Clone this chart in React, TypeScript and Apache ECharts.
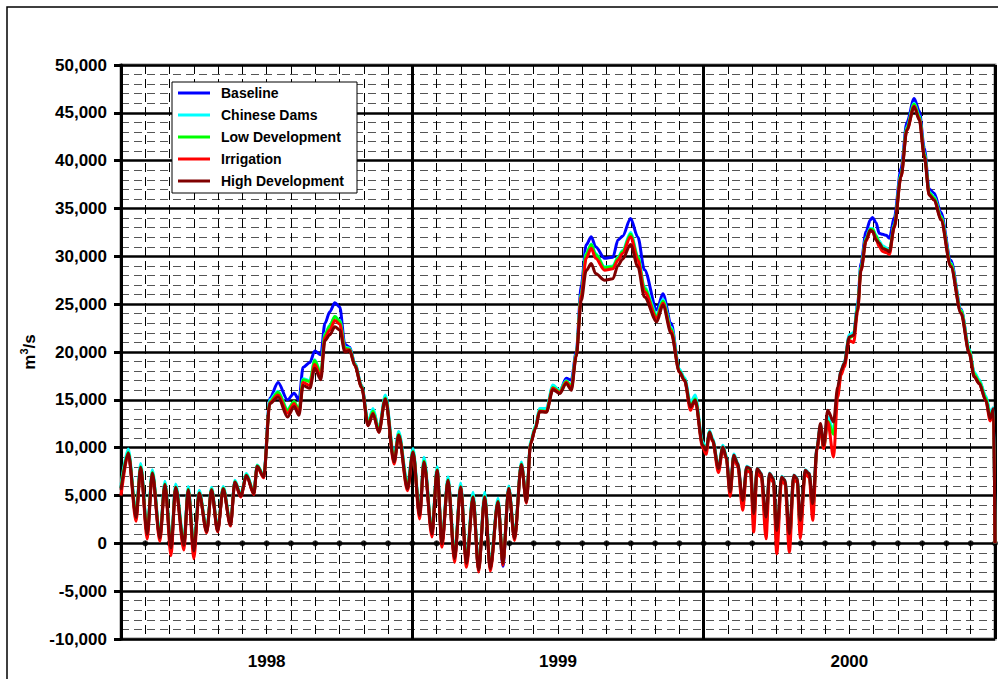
import React, { useEffect, useRef } from "react";
import * as echarts from "echarts";

// x position in months since 1 Jan 1998
const months = [
  0, 0.3, 0.62, 0.81, 1.08, 1.29, 1.6, 1.81, 2.06, 2.25, 2.59, 2.77, 3.0, 3.22, 3.53, 3.73, 3.98, 4.21, 4.51, 4.69, 4.93, 5.17, 5.47, 5.61, 5.88,
  6.13, 6.47, 6.86, 7.13, 7.33, 7.5, 7.78, 7.98, 8.23, 8.4, 8.6, 8.81, 9.01, 9.22, 9.42, 9.63, 9.91, 10.18, 10.38, 10.62, 10.89, 11.25, 11.44, 11.8,
  12.03, 12.3, 12.48, 12.81, 13.02, 13.22, 13.47, 13.74, 13.99, 14.23, 14.5, 14.73, 14.98, 15.21, 15.53, 15.73, 15.97, 16.21, 16.49, 16.7, 16.87, 17.07, 17.24, 17.52, 17.79, 18.07, 18.34, 18.55, 18.75, 18.96, 19.16, 19.37, 19.55, 19.92, 20.26, 20.47, 20.66, 20.99, 21.29, 21.56, 22.07, 22.32, 22.66, 23.0, 23.21, 23.46, 23.65, 23.96,
  24.1, 24.24, 24.37, 24.61, 24.79, 24.93, 25.09, 25.24, 25.4, 25.61, 25.77, 25.93, 26.06, 26.2, 26.37, 26.57, 26.71, 26.87, 27.01, 27.21, 27.35, 27.53, 27.71, 27.85, 27.98, 28.18, 28.35, 28.49, 28.67, 28.81, 28.94, 29.11, 29.35, 29.52, 29.66, 29.79, 30.0, 30.18, 30.34, 30.48, 30.69, 30.86, 30.96, 31.1, 31.23, 31.37, 31.52, 31.65, 31.85, 32.13, 32.37, 32.67, 32.88, 33.09, 33.29, 33.5, 33.77, 34.18, 34.6, 34.94, 35.14, 35.35, 35.62, 35.8, 35.94, 36.0,
];

const baseline = [
  5800, 9500, 2900, 8000, 1100, 7400, 700, 6200, -400, 5900, -100, 5650, -700, 5300, 1300, 5650, 1400, 5750, 2000, 6450, 5000, 7150, 5250, 8100, 7000,
  15200, 16800, 15000, 15700, 15000, 18400, 18900, 20100, 19700, 23000, 24200, 25150, 24700, 20800, 20500, 18800, 16500, 12600, 13900, 11900, 15300, 8800, 11500, 6000,
  9600, 3000, 8600, 1100, 7700, 50, 6650, -1500, 5950, -2000, 4900, -2750, 4900, -2600, 4400, -2400, 5750, 550, 8300, 4400, 10500, 12100, 13900, 13900, 16400, 15900, 17250, 17050, 20000, 27000, 31200, 32050, 31000, 29800, 29900, 31700, 32100, 33950, 32000, 28600, 24400, 26100, 23000, 18100, 17200, 14400, 15200, 10400,
  9700, 11650, 10800, 7800, 10100, 9050, 5300, 9200, 8300, 4000, 7900, 7700, 2400, 7700, 7200, 1800, 7200, 6700, 300, 6850, 6500, 200, 7000, 6700, 1600, 7550, 7200, 3400, 10000, 12300, 10100, 13000, 11600, 15800, 18000, 18800, 21700, 21900, 25000, 29300, 32600, 33800, 34070, 33500, 32400, 32300, 32200, 31900, 34000, 39200, 44000, 46500, 45200, 41300, 37000, 36600, 34600, 29600, 24500, 20200, 17800, 17000, 15300, 13500, 14000, 0,
];

const chineseDams = [
  6100, 9850, 3200, 8350, 1400, 7700, 1000, 6500, -100, 6200, 200, 5950, -400, 5550, 1500, 5850, 1600, 5950, 2200, 6600, 5150, 7300, 5400, 8200, 7100,
  15000, 15900, 14000, 14800, 13900, 17200, 17000, 19200, 17800, 21900, 22800, 23700, 23300, 20500, 20400, 18800, 16500, 12700, 14100, 12000, 15500, 9000, 11700, 6200,
  9900, 3300, 9000, 1400, 8000, 350, 6950, -1200, 6300, -1700, 5350, -2450, 5350, -2300, 4700, -2000, 6000, 800, 8500, 4600, 10700, 12300, 14100, 14100, 16550, 16000, 17000, 16500, 19800, 26200, 30300, 31300, 30300, 28900, 29000, 29900, 30600, 32500, 30000, 26800, 23900, 25500, 22600, 18200, 17300, 14700, 15500, 10600,
  9900, 11800, 10950, 8000, 10250, 9200, 5500, 9350, 8450, 4200, 8050, 7850, 2600, 7850, 7350, 2000, 7350, 6850, 500, 7000, 6650, 400, 7150, 6850, 1800, 7700, 7350, 3600, 10150, 12400, 10250, 13200, 11800, 15900, 18100, 18900, 21800, 22000, 24800, 28900, 31900, 32900, 32900, 32200, 31600, 31100, 30900, 30600, 33300, 38600, 43500, 46000, 44700, 40800, 36700, 36200, 34200, 29300, 24400, 20300, 17900, 17100, 15400, 13700, 14200, 0,
];

const lowDevelopment = [
  5800, 9500, 2900, 8000, 1100, 7400, 700, 6200, -400, 5900, -100, 5650, -700, 5300, 1300, 5650, 1400, 5750, 2000, 6450, 5000, 7150, 5250, 8100, 7000,
  14800, 15800, 13900, 14800, 13900, 17100, 16900, 19100, 17700, 21800, 22700, 23700, 23200, 20400, 20300, 18700, 16400, 12500, 13800, 11800, 15200, 8700, 11400, 5900,
  9600, 3000, 8600, 1100, 7700, 50, 6650, -1500, 5950, -2000, 4900, -2750, 4900, -2600, 4400, -2100, 5750, 550, 8300, 4400, 10500, 12100, 13850, 13800, 16300, 15850, 16950, 16400, 19700, 26100, 30200, 31200, 30200, 28800, 28900, 29800, 30500, 32300, 29900, 26600, 23700, 25300, 22400, 18000, 17100, 14300, 15100, 10300,
  9650, 11600, 10750, 7750, 10050, 9000, 5200, 9150, 8250, 3900, 7850, 7650, 2300, 7650, 7150, 1700, 7150, 6650, 200, 6800, 6450, 100, 6950, 6650, 1500, 7500, 7150, 3300, 9950, 12200, 10000, 12800, 11400, 15600, 17900, 18700, 21500, 21700, 24600, 28800, 31800, 32800, 32800, 32100, 31400, 30900, 30700, 30500, 33200, 38500, 43400, 45900, 44600, 40700, 36600, 36100, 34100, 29200, 24300, 20100, 17700, 16900, 15200, 13300, 13900, 0,
];

const irrigation = [
  5000, 9300, 2300, 7800, 450, 7200, 200, 6050, -1300, 5750, -700, 5500, -1600, 5200, 1100, 5550, 1200, 5650, 1800, 6350, 4850, 7050, 5100, 8000, 6850,
  14700, 15500, 13600, 14600, 13600, 16800, 16500, 18700, 17400, 21500, 22300, 23300, 22900, 20200, 20200, 18600, 16300, 12300, 13600, 11600, 15100, 8300, 11300, 5500,
  9450, 2550, 8450, 650, 7600, -400, 6550, -2000, 5850, -2500, 4800, -3000, 4800, -2900, 4300, -2300, 5700, 300, 8200, 4200, 10400, 12000, 13800, 13750, 16200, 15750, 16850, 16200, 19600, 25900, 29800, 30850, 29800, 28550, 28700, 29600, 30300, 32050, 29600, 26300, 23500, 25100, 22200, 17900, 17000, 13900, 14950, 10000,
  9300, 11500, 10650, 7400, 9900, 8850, 4900, 8950, 8050, 3450, 7600, 7400, 1180, 7400, 6900, 490, 6900, 6400, -1080, 6550, 6200, -910, 6700, 6400, 490, 7250, 6900, 2400, 9800, 12100, 9900, 12700, 9030, 15300, 17600, 18400, 21200, 21000, 24200, 28500, 31600, 32600, 32600, 31800, 31000, 30500, 30400, 30200, 33000, 38300, 43200, 45700, 44400, 40500, 36400, 35900, 33900, 29000, 24100, 19900, 17500, 16700, 14900, 12800, 13700, 0,
];

const highDevelopment = [
  5600, 9450, 2700, 7950, 950, 7350, 550, 6150, -500, 5850, -200, 5600, -800, 5250, 1200, 5600, 1300, 5700, 1900, 6400, 4950, 7100, 5200, 8050, 6950,
  14600, 15300, 13200, 14300, 13400, 16500, 16200, 18300, 17100, 21200, 21800, 22650, 22300, 20000, 20150, 18600, 16300, 12300, 13550, 11600, 15100, 8500, 11300, 5700,
  9550, 2900, 8500, 1000, 7650, -50, 6600, -1600, 5900, -2100, 4850, -2800, 4850, -2650, 4350, -2100, 5720, 500, 8250, 4300, 10400, 12000, 13750, 13700, 16050, 15650, 16700, 16000, 19500, 25400, 28500, 29250, 28200, 27500, 27650, 29050, 29700, 31250, 28900, 25750, 23150, 24900, 21950, 17900, 17050, 14250, 14950, 10250,
  9730, 11640, 10770, 7810, 10070, 9030, 5400, 9200, 8340, 4490, 7980, 7810, 3100, 7810, 7290, 2750, 7290, 6770, 1350, 6940, 6590, 1000, 7110, 6770, 2400, 7640, 7290, 4140, 10070, 12520, 10250, 13910, 12690, 16350, 18090, 18790, 21580, 21760, 24370, 28560, 31690, 32740, 32600, 31690, 31400, 30820, 30700, 30470, 33090, 38320, 43200, 45640, 44250, 40410, 36400, 35880, 33790, 28900, 24030, 19840, 17400, 16700, 14960, 13040, 14090, 0,
];

const seriesNames = ["Baseline", "Chinese Dams", "Low Development", "Irrigation", "High Development"];
const seriesColors = ["#0000FF", "#00FFFF", "#00FF00", "#FF0000", "#800000"];
const yearLabels = ["1998", "1999", "2000"];
const monthTickPositions = [
  1, 2, 3, 4, 5, 6, 7, 8, 9, 10, 11, 12, 13, 14, 15, 16, 17, 18, 19, 20, 21, 22, 23, 24, 25, 26, 27, 28, 29, 30, 31, 32, 33, 34, 35, 36,
];

export default function App() {
  const ref = useRef<HTMLDivElement>(null);

  useEffect(() => {
    document.body.style.margin = "0";
    const chart = echarts.init(ref.current as HTMLDivElement, null, { renderer: "svg" });
    const font = "Arial, 'Liberation Sans', sans-serif";
    const allData = [baseline, chineseDams, lowDevelopment, irrigation, highDevelopment];

    const lines = seriesNames.map((name, k) => ({
      type: "line",
      name,
      data: months.map((m, i) => [m, allData[k][i]]),
      symbol: "none",
      showSymbol: false,
      smooth: 0.3,
      smoothMonotone: "x",
      lineStyle: { color: seriesColors[k], width: 3 },
      itemStyle: { color: seriesColors[k] },
      z: 3 + k,
      silent: true,
    }));

    chart.setOption({
      animation: false,
      backgroundColor: "#ffffff",
      grid: {
        left: 121,
        top: 65,
        width: 875,
        height: 574,
        show: true,
        borderColor: "#888888",
        borderWidth: 3,
        backgroundColor: "transparent",
      },
      xAxis: [
        {
          type: "value",
          min: 0,
          max: 36,
          interval: 1,
          axisLine: { show: false, onZero: false },
          axisTick: { show: false },
          axisLabel: {
            margin: 14,
            fontFamily: font,
            fontWeight: "bold",
            fontSize: 17,
            color: "#000",
            showMinLabel: true,
            showMaxLabel: true,
            formatter: (v: number) => {
              const i = (v - 6) / 12;
              return Number.isInteger(i) && yearLabels[i] ? yearLabels[i] : "";
            },
          },
          splitLine: { show: true, lineStyle: { color: "#000", width: 1, type: [9, 5] } },
        },
        {
          type: "value",
          min: 0,
          max: 36,
          interval: 12,
          position: "bottom",
          axisLine: { show: false, onZero: false },
          axisTick: { show: false },
          axisLabel: { show: false },
          splitLine: { show: true, lineStyle: { color: "#000", width: 3 } },
        },
      ],
      yAxis: {
        type: "value",
        min: -10000,
        max: 50000,
        interval: 5000,
        axisLine: { show: true, onZero: false, lineStyle: { color: "#000", width: 3 } },
        axisTick: { show: true, length: 7, lineStyle: { color: "#000", width: 3 } },
        axisLabel: {
          margin: 14,
          fontFamily: font,
          fontWeight: "bold",
          fontSize: 17,
          color: "#000",
          formatter: (v: number) => v.toLocaleString("en-US"),
        },
        splitLine: { show: true, lineStyle: { color: "#000", width: 2.5 } },
        minorTick: { show: false, splitNumber: 5 },
        minorSplitLine: { show: true, lineStyle: { color: "#555", width: 1, type: [8, 5] } },
        name: "{a|m}{b|3}{a|/s}",
        nameLocation: "middle",
        nameRotate: 90,
        nameGap: 76,
        nameTextStyle: {
          fontFamily: font,
          fontWeight: "bold",
          fontSize: 17,
          color: "#000",
          rich: {
            a: { fontFamily: font, fontWeight: "bold", fontSize: 17, color: "#000", lineHeight: 20, verticalAlign: "bottom" },
            b: { fontFamily: font, fontWeight: "bold", fontSize: 11, color: "#000", lineHeight: 20, verticalAlign: "top" },
          },
        },
      },
      legend: {
        data: seriesNames,
        orient: "vertical",
        left: 178,
        top: 85,
        padding: 0,
        itemWidth: 32,
        itemHeight: 3,
        itemGap: 6,
        icon: "rect",
        selectedMode: false,
        z: 20,
        textStyle: {
          fontFamily: font,
          fontWeight: "bold",
          fontSize: 14,
          color: "#000",
          lineHeight: 16,
          padding: [0, 0, 0, 6],
        },
      },
      graphic: [
        {
          type: "rect",
          silent: true,
          z: -10,
          shape: { x: 7, y: 7, width: 1000, height: 700 },
          style: { fill: "none", stroke: "#000", lineWidth: 1.5 },
        },
        {
          type: "rect",
          silent: true,
          z: 15,
          shape: { x: 172, y: 82, width: 185, height: 111 },
          style: { fill: "#fff", stroke: "#000", lineWidth: 1 },
        },
      ],
      series: [
        {
          type: "scatter",
          name: "ticks",
          data: monthTickPositions.map((m) => [m, 0]),
          symbol: "circle",
          symbolSize: 6,
          itemStyle: { color: "#000" },
          z: 2,
          silent: true,
        },
        ...lines,
      ],
    });

    return () => {
      chart.dispose();
    };
  }, []);

  return (
    <div
      ref={ref}
      style={{ position: "fixed", left: 0, top: 0, width: 998, height: 679, background: "#fff" }}
    />
  );
}
